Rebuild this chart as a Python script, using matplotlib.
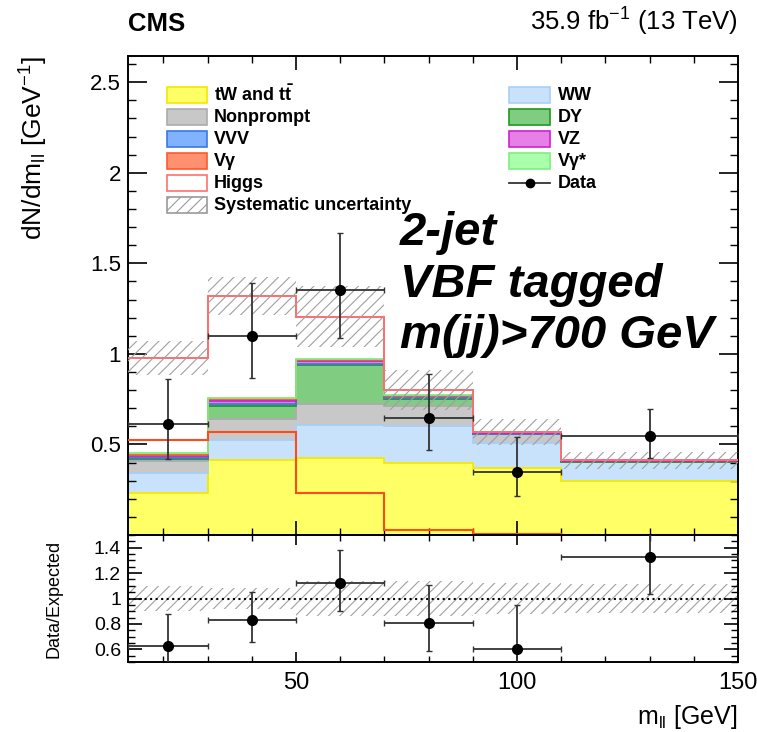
import numpy as np
import matplotlib
matplotlib.use('Agg')
import matplotlib.pyplot as plt
from matplotlib.patches import Rectangle
from matplotlib.lines import Line2D
from matplotlib.ticker import MultipleLocator, FormatStrFormatter

plt.rcParams['font.family'] = ['Liberation Sans', 'DejaVu Sans']
plt.rcParams['mathtext.fontset'] = 'custom'
plt.rcParams['mathtext.rm'] = 'Liberation Sans'
plt.rcParams['mathtext.it'] = 'Liberation Sans:italic'
plt.rcParams['mathtext.bf'] = 'Liberation Sans:bold'
plt.rcParams['mathtext.default'] = 'rm'
plt.rcParams['hatch.linewidth'] = 0.8

# binning (m_ll in GeV)
edges = [12, 30, 50, 70, 90, 110, 150]

# backgrounds, per bin (dN/dm_ll), bottom -> top of the stack
tw_tt = [0.234, 0.414, 0.424, 0.396, 0.368, 0.300]
ww = [0.110, 0.111, 0.186, 0.206, 0.138, 0.105]
nonprompt = [0.065, 0.114, 0.114, 0.111, 0.050, 0.000]
dy = [0.011, 0.074, 0.215, 0.037, 0.003, 0.000]
vvv = [0.005, 0.010, 0.006, 0.004, 0.001, 0.001]
vz = [0.012, 0.015, 0.018, 0.013, 0.005, 0.005]
vgamma = [0.006, 0.013, 0.004, 0.003, 0.001, 0.001]
vgamma_star = [0.008, 0.003, 0.005, 0.003, 0.001, 0.001]
higgs = [0.525, 0.566, 0.234, 0.027, 0.004, 0.000]

# relative systematic uncertainty on the total expectation
syst_rel = [0.095, 0.08, 0.14, 0.14, 0.125, 0.115]

# data with asymmetric errors
data = [0.613, 1.10, 1.354, 0.648, 0.346, 0.547]
data_up = [0.247, 0.29, 0.316, 0.24, 0.194, 0.147]
data_dn = [0.193, 0.234, 0.264, 0.178, 0.129, 0.12]

edges = np.array(edges)
centers = 0.5 * (edges[1:] + edges[:-1])
halfw = 0.5 * (edges[1:] - edges[:-1])

layers = [
    (tw_tt, '#ffff66', '#f5e800'),
    (ww, '#c8e2fb', '#a8cff5'),
    (nonprompt, '#c8c8c8', '#acacac'),
    (dy, '#80cc80', '#1e9a1e'),
    (vvv, '#80b2ff', '#3a78e8'),
    (vz, '#e680e6', '#cc22cc'),
    (vgamma, '#ff9070', '#ff5a2a'),
    (vgamma_star, '#aaffaa', '#80ee80'),
]

W, H = 757, 732
fig = plt.figure(figsize=(W / 100, H / 100), dpi=100)


def fx(x):
    return x / W


def fy(y):
    return 1 - y / H


ax = fig.add_axes([fx(128), fy(535), (738 - 128) / W, (535 - 56) / H])
rax = fig.add_axes([fx(128), fy(662), (738 - 128) / W, (662 - 535) / H])

bottom = np.zeros(len(centers))
for vals, fc, ec in layers:
    top = bottom + np.array(vals)
    ax.stairs(top, edges, baseline=bottom, fill=True, facecolor=fc,
              edgecolor='none', lw=0, zorder=1)
    ax.stairs(top, edges, baseline=None, color=ec, lw=1.3, zorder=2)
    bottom = top

total = bottom + np.array(higgs)
ax.stairs(np.array(higgs), edges, baseline=None, color='#ff4a1a', lw=1.5, zorder=3)
ax.stairs(total, edges, baseline=None, color='#ff6b6b', lw=1.4, zorder=3)

syst = np.array(syst_rel)
ax.stairs(total * (1 + syst), edges, baseline=total * (1 - syst), fill=True,
          facecolor='none', edgecolor='#a0a0a0', hatch='///', lw=0, zorder=4)

ax.errorbar(centers, data, xerr=halfw, yerr=[data_dn, data_up], fmt='o',
            color='black', ecolor='#333333', elinewidth=1.3, capsize=2,
            markersize=7, zorder=5)

ax.set_xlim(12, 150)
ax.set_ylim(0, 2.645)
ax.set_yticks([0.5, 1, 1.5, 2, 2.5])
ax.yaxis.set_major_formatter(FormatStrFormatter('%g'))
ax.yaxis.set_minor_locator(MultipleLocator(0.1))
ax.xaxis.set_major_locator(MultipleLocator(50))
ax.xaxis.set_minor_locator(MultipleLocator(10))
ax.tick_params(which='both', direction='in', top=True, right=True, labelbottom=False)
ax.tick_params(axis='y', which='major', length=14, width=1.2, labelsize=16, pad=5)
ax.tick_params(axis='y', which='minor', length=6, width=1)
ax.tick_params(axis='x', which='major', length=10, width=1.2)
ax.tick_params(axis='x', which='minor', length=5, width=1)
for s in ax.spines.values():
    s.set_linewidth(1.4)

ax.set_ylabel('dN/dm$_{ll}$ [GeV$^{-1}$]', fontsize=19, loc='top')
ax.yaxis.set_label_coords(-0.128, 1.0)

# ratio panel
ratio = np.array(data) / total
r_up = np.array(data_up) / total
r_dn = np.array(data_dn) / total
rax.stairs(1 + syst, edges, baseline=1 - syst, fill=True, facecolor='none',
           edgecolor='#a0a0a0', hatch='///', lw=0, zorder=1)
rax.axhline(1, color='black', ls=':', lw=1.5, zorder=2)
rax.errorbar(centers, ratio, xerr=halfw, yerr=[r_dn, r_up], fmt='o',
             color='black', ecolor='#333333', elinewidth=1.3, capsize=2,
             markersize=7, zorder=3)
rax.set_xlim(12, 150)
rax.set_ylim(0.5, 1.5)
rax.set_yticks([0.6, 0.8, 1, 1.2, 1.4])
rax.yaxis.set_major_formatter(FormatStrFormatter('%g'))
rax.yaxis.set_minor_locator(MultipleLocator(0.05))
rax.xaxis.set_major_locator(MultipleLocator(50))
rax.xaxis.set_minor_locator(MultipleLocator(10))
rax.tick_params(which='both', direction='in', top=True, right=True)
rax.tick_params(axis='y', which='major', length=10, width=1.2, labelsize=14, pad=5)
rax.tick_params(axis='y', which='minor', length=5, width=1)
rax.tick_params(axis='x', which='major', length=7, width=1.2, labelsize=17, pad=7)
rax.tick_params(axis='x', which='minor', length=4, width=1)
for s in rax.spines.values():
    s.set_linewidth(1.4)
rax.set_ylabel('Data/Expected', fontsize=13)
rax.yaxis.set_label_coords(-0.108, 0.5)

fig.text(fx(738), fy(717), 'm$_{ll}$ [GeV]', fontsize=18, ha='right', va='center')

# header
fig.text(fx(128), fy(31), 'CMS', fontsize=18.5, fontweight='bold', ha='left', va='baseline')
fig.text(fx(738), fy(31), '35.9 fb$^{-1}$ (13 TeV)', fontsize=18.5, ha='right', va='baseline')

# category label
for txt, yb in [('2-jet', 245), ('VBF tagged', 297), ('m(jj)>700 GeV', 348)]:
    fig.text(fx(400), fy(yb), txt, fontsize=34, fontweight='bold', style='italic',
             ha='left', va='baseline')

# legend
rows = [95, 117, 139, 161, 183, 205]
left_entries = [
    ('tW and t$\\mathbf{\\bar{t}}$', '#ffff66', '#f5e800', None),
    ('Nonprompt', '#c8c8c8', '#acacac', None),
    ('VVV', '#80b2ff', '#3a78e8', None),
    ('V\u03b3', '#ff9070', '#ff5a2a', None),
    ('Higgs', 'white', '#ff7070', None),
    ('Systematic uncertainty', 'white', '#9a9a9a', '///'),
]
right_entries = [
    ('WW', '#c8e2fb', '#a8cff5'),
    ('DY', '#80cc80', '#1e9a1e'),
    ('VZ', '#e680e6', '#cc22cc'),
    ('V\u03b3*', '#aaffaa', '#80ee80'),
]
for (label, fc, ec, hatch), y in zip(left_entries, rows):
    fig.add_artist(Rectangle((fx(167), fy(y + 8)), 40 / W, 16 / H, facecolor=fc,
                             edgecolor=ec, lw=1.2, hatch=hatch))
    fig.text(fx(214), fy(y), label, fontsize=13, fontweight='bold', ha='left', va='center')
for (label, fc, ec), y in zip(right_entries, rows):
    fig.add_artist(Rectangle((fx(509), fy(y + 8)), 41 / W, 16 / H, facecolor=fc,
                             edgecolor=ec, lw=1.2))
    fig.text(fx(558), fy(y), label, fontsize=13, fontweight='bold', ha='left', va='center')
fig.add_artist(Line2D([fx(509), fx(550)], [fy(rows[4]), fy(rows[4])], color='#333333', lw=1.3))
fig.add_artist(Line2D([fx(529.5)], [fy(rows[4])], marker='o', color='black', markersize=6))
fig.text(fx(558), fy(rows[4]), 'Data', fontsize=13, fontweight='bold', ha='left', va='center')

fig.savefig('out.png', dpi=100)
